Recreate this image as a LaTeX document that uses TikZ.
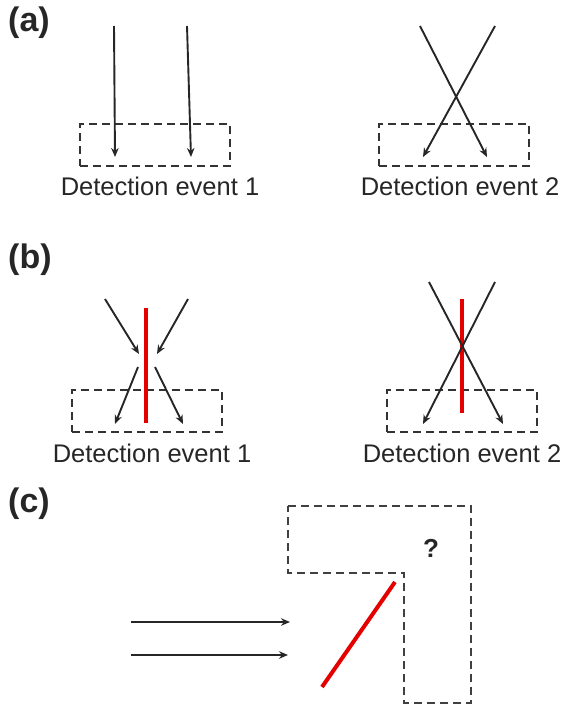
\documentclass[tikz,border=0pt]{standalone}
\usepackage{fontspec}
\setmainfont{Liberation Sans}
\usetikzlibrary{arrows.meta}
\begin{document}
\begin{tikzpicture}[x=1pt,y=-1pt,
  ray/.style={draw=black!85, line width=1.9pt, -{Stealth[length=9pt,width=7.5pt]}},
  detbox/.style={draw=black!80, line width=2pt, dash pattern=on 8pt off 5pt, inner sep=0, minimum width=150pt, minimum height=42pt},
  lshape/.style={draw=black!75, line width=2pt, dash pattern=on 8pt off 5pt},
  mirror/.style={draw=red!90!black, line width=4pt},
  lbl/.style={font=\fontsize{25.5}{28}\selectfont, inner sep=0, anchor=base, text=black!85},
  panel/.style={font=\bfseries\fontsize{34}{38}\selectfont, inner sep=0, anchor=base west, text=black!85},
  qmark/.style={font=\bfseries\fontsize{26}{28}\selectfont, inner sep=0, anchor=base, text=black!85}]
\useasboundingbox (0,0) rectangle (569,709);

% ---------- (a) ----------
\node[panel] (la) at (8,32) {(a)};
\node[detbox] (boxa1) at (155,145) {};
\node[lbl] (ta1) at (160,195) {Detection event 1};
\coordinate (a1s1) at (114,26); \coordinate (a1e1) at (115,157);
\coordinate (a1s2) at (187,26); \coordinate (a1e2) at (191,157);
\draw[ray] (a1s1) -- (a1e1);
\draw[ray] (a1s2) -- (a1e2);

\node[detbox] (boxa2) at (454,145) {};
\node[lbl] (ta2) at (460,195) {Detection event 2};
\coordinate (a2s1) at (420,26); \coordinate (a2e1) at (487,157);
\coordinate (a2s2) at (495,26); \coordinate (a2e2) at (423,157);
\draw[ray] (a2s1) -- (a2e1);
\draw[ray] (a2s2) -- (a2e2);

% ---------- (b) ----------
\node[panel] (lb) at (8,268) {(b)};
\node[detbox] (boxb1) at (147,411) {};
\node[lbl] (tb1) at (152,462) {Detection event 1};
\coordinate (m1t) at (146,308); \coordinate (m1b) at (146,423);
\draw[mirror] (m1t) -- (m1b);
\coordinate (b1i1s) at (105,299); \coordinate (b1i1e) at (139,354);
\coordinate (b1i2s) at (188,299); \coordinate (b1i2e) at (157,354);
\coordinate (b1o1s) at (138,367); \coordinate (b1o1e) at (115,424);
\coordinate (b1o2s) at (155,367); \coordinate (b1o2e) at (183,424);
\draw[ray] (b1i1s) -- (b1i1e);
\draw[ray] (b1i2s) -- (b1i2e);
\draw[ray] (b1o1s) -- (b1o1e);
\draw[ray] (b1o2s) -- (b1o2e);

\node[detbox] (boxb2) at (462,411) {};
\node[lbl] (tb2) at (462,462) {Detection event 2};
\coordinate (m2t) at (462,299); \coordinate (m2b) at (462,413);
\draw[mirror] (m2t) -- (m2b);
\coordinate (b2s1) at (429,282); \coordinate (b2e1) at (503,424);
\coordinate (b2s2) at (495,282); \coordinate (b2e2) at (423,424);
\draw[ray] (b2s1) -- (b2e1);
\draw[ray] (b2s2) -- (b2e2);

% ---------- (c) ----------
\node[panel] (lc) at (8,512) {(c)};
\coordinate (L1) at (288,506);
\coordinate (L2) at (471,506);
\coordinate (L3) at (471,703);
\coordinate (L4) at (404,703);
\coordinate (L5) at (404,573);
\coordinate (L6) at (288,573);
\draw[lshape] (L1) -- (L2) -- (L3) -- (L4) -- (L5) -- (L6) -- cycle;
\node[qmark] (q) at (431,557) {?};
\coordinate (m3a) at (322,687); \coordinate (m3b) at (395,582);
\draw[mirror] (m3a) -- (m3b);
\coordinate (c1s) at (131,622); \coordinate (c1e) at (290,622);
\coordinate (c2s) at (131,655); \coordinate (c2e) at (288,655);
\draw[ray] (c1s) -- (c1e);
\draw[ray] (c2s) -- (c2e);
\end{tikzpicture}
\end{document}
